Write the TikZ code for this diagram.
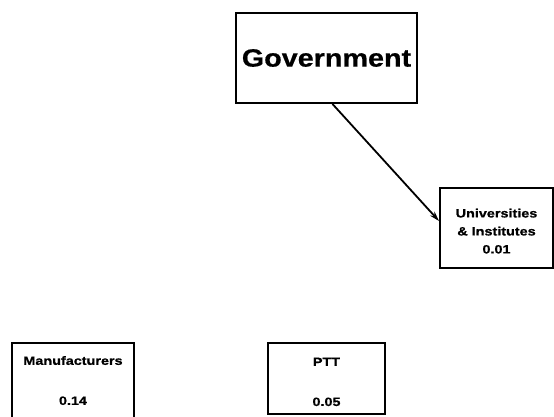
\documentclass[tikz,border=0pt]{standalone}
\usepackage{fontspec}
\setmainfont{Liberation Sans}
\newfontfamily\govfont{Liberation Sans}[FakeStretch=1.15,FakeBold=0.6]
\newfontfamily\labfont{Liberation Sans}[FakeStretch=1.2,FakeBold=0.8]
\usetikzlibrary{arrows.meta}
\tikzset{
  orgbox/.style={draw, line width=2pt, rectangle, inner sep=0pt, align=center},
  govtext/.style={font=\govfont\bfseries\fontsize{25}{30}\selectfont},
  labtext/.style={font=\labfont\bfseries\fontsize{12}{18}\selectfont},
  link/.style={line width=1.8pt, -{Stealth[length=10pt,width=6pt]}}
}
\begin{document}
\begin{tikzpicture}[x=1pt,y=-1pt]
  \useasboundingbox (0,0) rectangle (554,416);
  \clip (0,0) rectangle (554,416);
  % top-level body
  \node[orgbox, govtext, minimum width=181pt, minimum height=90pt] (gov) at (326.5,58) {Government};
  % research body on the right
  \node[orgbox, labtext, minimum width=113pt, minimum height=80pt] (uni) at (496.5,228)
    {\rule{0pt}{15pt}Universities\\\& Institutes\\0.01};
  % bottom row
  \node[orgbox, labtext, minimum width=122pt, minimum height=84pt] (man) at (73,385)
    {Manufacturers\\[22pt]0.14\rule[-9pt]{0pt}{9pt}};
  \node[orgbox, labtext, minimum width=117pt, minimum height=71pt] (ptt) at (326.5,378.5)
    {\rule{0pt}{15pt}PTT\\[22pt]0.05};
  % connector
  \coordinate (govfoot) at ([xshift=6pt]gov.south);
  \coordinate (unientry) at ([yshift=7pt]uni.west);
  \draw[link] (govfoot) -- (unientry);
\end{tikzpicture}
\end{document}
